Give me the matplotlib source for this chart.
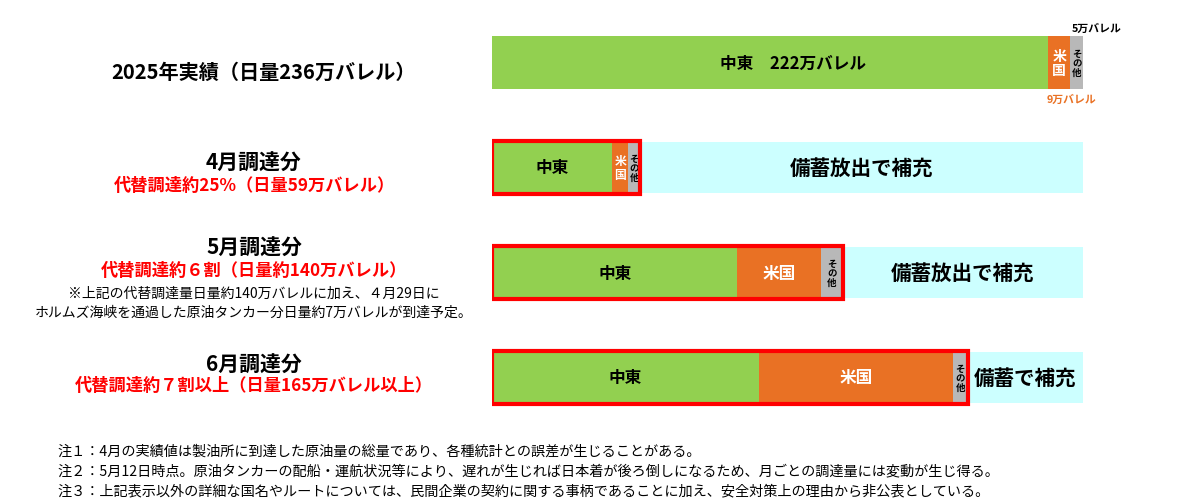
import numpy as np
import matplotlib
matplotlib.use("Agg")
import matplotlib.pyplot as plt
import matplotlib.transforms as mtransforms

plt.rcParams['font.family'] = ['Noto Sans CJK JP', 'DejaVu Sans']

# =========================
# DATA (万バレル/日)
# =========================
row_titles = ["2025年実績（日量236万バレル）", "4月調達分", "5月調達分", "6月調達分"]
row_subtitles = ["", "代替調達約25%（日量59万バレル）",
                 "代替調達約６割（日量約140万バレル）",
                 "代替調達約７割以上（日量165万バレル以上）"]
notes_may = ["※上記の代替調達量日量約140万バレルに加え、４月29日に",
             "ホルムズ海峡を通過した原油タンカー分日量約7万バレルが到達予定。"]

total = 236
middle_east = [222, 48, 98, 106.5]
usa = [9, 6.5, 33.5, 77.5]
other = [5, 4.5, 8.5, 6]

me_labels = ["中東　222万バレル", "中東", "中東", "中東"]
usa_labels = ["米\n国", "米\n国", "米国", "米国"]
other_label = "そ\nの\n他"
reserve_labels = ["", "備蓄放出で補充", "備蓄放出で補充", "備蓄で補充"]
top_other_note = "5万バレル"
top_usa_note = "9万バレル"

footnotes = [
    "注１：4月の実績値は製油所に到達した原油量の総量であり、各種統計との誤差が生じることがある。",
    "注２：5月12日時点。原油タンカーの配船・運航状況等により、遅れが生じれば日本着が後ろ倒しになるため、月ごとの調達量には変動が生じ得る。",
    "注３：上記表示以外の詳細な国名やルートについては、民間企業の契約に関する事柄であることに加え、安全対策上の理由から非公表としている。",
]

GREEN = "#92D050"
ORANGE = "#E97124"
GRAY = "#B8B8B8"
CYAN = "#CCFFFF"
RED = "#FF0000"
ORANGE_TXT = "#E97124"

# =========================
# FIGURE
# =========================
W, H = 1179, 502
fig = plt.figure(figsize=(W / 100, H / 100), dpi=100)
fig.patch.set_facecolor("white")

ax = fig.add_axes([492 / W, 1 - 431 / H, 591 / W, 420 / H])
ax.set_xlim(0, total)
ax.set_ylim(3.5, -0.5)
ax.axis("off")

ypos = np.arange(len(row_titles))
me = np.array(middle_east, dtype=float)
us = np.array(usa, dtype=float)
ot = np.array(other, dtype=float)
procured = me + us + ot
reserve = total - procured
reserve[0] = 0
bh = 0.5

ax.barh(ypos, me, height=bh, color=GREEN, linewidth=0)
ax.barh(ypos, us, left=me, height=bh, color=ORANGE, linewidth=0)
ax.barh(ypos, ot, left=me + us, height=bh, color=GRAY, linewidth=0)
ax.barh(ypos[1:], reserve[1:], left=procured[1:], height=bh * 0.96,
        color=CYAN, linewidth=0)
# red frame around procured part
ax.barh(ypos[1:], procured[1:], height=bh, fill=False, edgecolor=RED,
        linewidth=3.0, zorder=5)

for i, y in enumerate(ypos):
    # the 2025 label sits a bit right of the segment centre
    xs = me[i] / 2 + (9 if i == 0 else 0)
    ax.text(xs, y, me_labels[i], ha="center", va="center",
            fontsize=12, fontweight="bold", color="black")
    if i < 2:
        ax.text(me[i] + us[i] / 2, y, usa_labels[i], ha="center", va="center",
                fontsize=10 if i == 0 else 8.5, fontweight="bold", color="white",
                linespacing=1.0)
    else:
        ax.text(me[i] + us[i] / 2, y, usa_labels[i], ha="center", va="center",
                fontsize=12, fontweight="bold", color="white")
    ax.text(me[i] + us[i] + ot[i] / 2, y, other_label, ha="center", va="center",
            fontsize=6.8, fontweight="bold", color="black", linespacing=0.95)
    if reserve[i] > 0:
        ax.text(procured[i] + reserve[i] / 2, y, reserve_labels[i],
                ha="center", va="center", fontsize=14.8, fontweight="bold",
                color="black")

ax.text(me[0] + us[0] + 0.5, ypos[0] - 0.33, top_other_note, ha="left",
        va="center", fontsize=7.8, fontweight="bold", color="black", clip_on=False)
ax.text(me[0] - 0.5, ypos[0] + 0.35, top_usa_note, ha="left",
        va="center", fontsize=7.8, fontweight="bold", color=ORANGE_TXT,
        clip_on=False)

# =========================
# LEFT LABELS
# =========================
trans = mtransforms.blended_transform_factory(fig.transFigure, ax.transData)
xc = 254 / W
title_off = [0.08, -0.05, -0.24, -0.13]
sub_off = [None, 0.17, -0.02, 0.07]

ax.text(264 / W, ypos[0] + title_off[0], row_titles[0], transform=trans,
        ha="center", va="center", fontsize=14.5, fontweight="bold")
for i in range(1, 4):
    ax.text(xc, ypos[i] + title_off[i], row_titles[i], transform=trans,
            ha="center", va="center", fontsize=15, fontweight="bold")
    ax.text(xc, ypos[i] + sub_off[i], row_subtitles[i], transform=trans,
            ha="center", va="center", fontsize=12.4, fontweight="bold",
            color=RED)

for k, line in enumerate(notes_may):
    ax.text(xc, ypos[2] + 0.19 + 0.18 * k, line, transform=trans,
            ha="center", va="center", fontsize=10, color="black")

# =========================
# FOOTNOTES
# =========================
for k, line in enumerate(footnotes):
    fig.text(57 / W, 1 - (452 + 19.5 * k) / H, line, ha="left", va="center",
             fontsize=10.2, color="black")

fig.savefig("out.png", dpi=100, facecolor="white")
